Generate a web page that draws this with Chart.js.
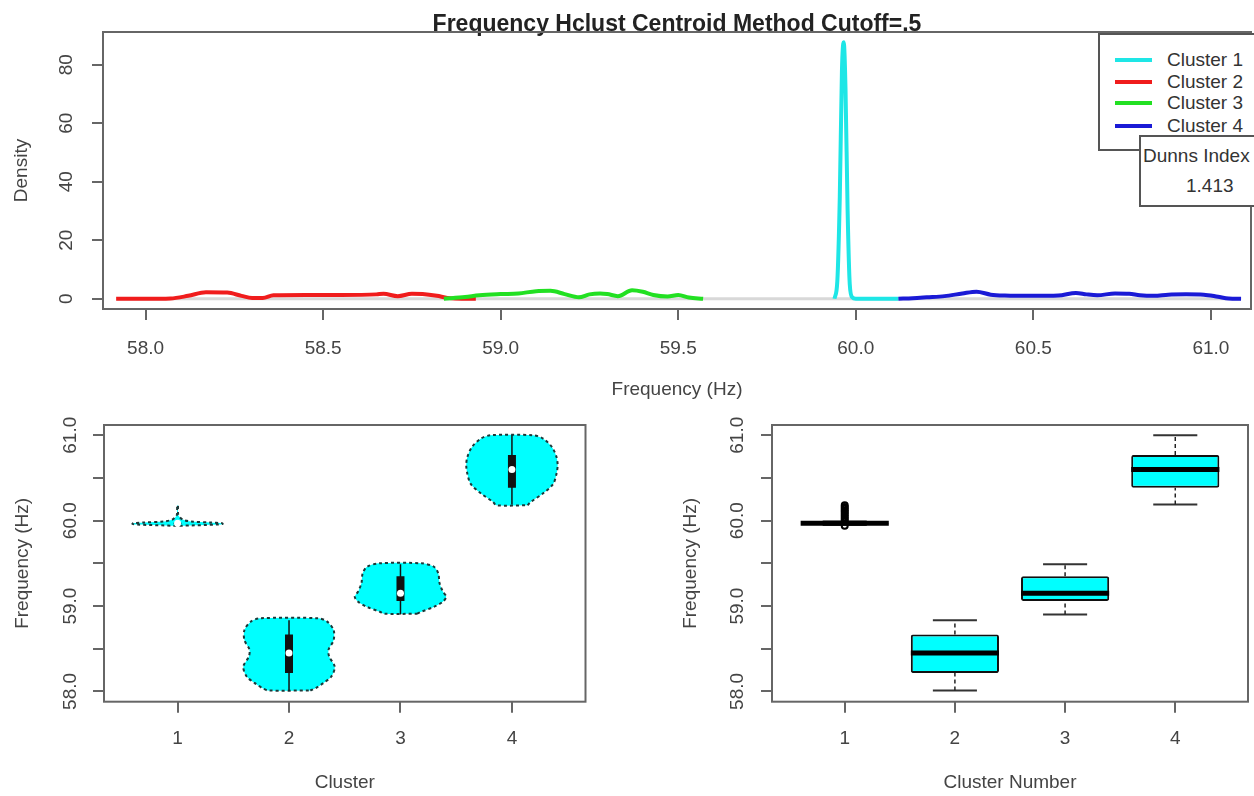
<!DOCTYPE html>
<html>
<head>
<meta charset="utf-8">
<title>Frequency Hclust Centroid Method Cutoff=.5</title>
<script src="https://cdn.jsdelivr.net/npm/chart.js@4.4.0/dist/chart.umd.min.js"></script>
<style>
  html, body { margin: 0; padding: 0; background: #fff; }
  body { width: 1254px; height: 796px; position: relative; overflow: hidden;
         font-family: 'Liberation Sans', Arial, sans-serif; color: #333; }
  .panel { position: absolute; }
  #legend { position: absolute; left: 1098px; top: 33px; width: 170px; height: 114px;
            border: 2px solid #555; background: #fff; }
  #legend .row { position: absolute; left: 0; height: 22px; width: 170px; }
  #legend .swatch { position: absolute; left: 15px; top: 9px; width: 37px; height: 4px; }
  #legend .label { position: absolute; left: 67px; top: 0; font-size: 19px; line-height: 22px; }
  #dunns { position: absolute; left: 1139px; top: 135px; width: 130px; height: 68px;
           border: 2px solid #555; background: #fff; font-size: 19px; }
  #dunns .t { position: absolute; left: 2px; top: 8px; line-height: 22px; }
  #dunns .v { position: absolute; left: 45px; top: 38px; line-height: 22px; }
</style>
</head>
<body>
<div class="panel" style="left:0;top:0;"><canvas id="density" width="1254" height="410"></canvas></div>
<div class="panel" style="left:0;top:400px;"><canvas id="violin" width="627" height="396"></canvas></div>
<div class="panel" style="left:627px;top:400px;"><canvas id="boxplot" width="627" height="396"></canvas></div>
<div id="legend"></div>
<div id="dunns"><div class="t">Dunns Index</div><div class="v">1.413</div></div>
<script>
// ---- data ----
const clusterNames = ['Cluster 1', 'Cluster 2', 'Cluster 3', 'Cluster 4'];
const clusterColors = ['#1ee6e6', '#f01c1c', '#22e022', '#1a1ad6'];

// density curves (Frequency Hz -> density)
const dens1X = [59.940, 59.948, 59.955, 59.961, 59.966, 59.971, 59.977, 59.983, 59.990, 60.000, 60.050, 60.120];
const dens1Y = [0, 6, 35, 78, 87.7, 72, 30, 5, 0.5, 0, 0, 0];
const dens2X = [57.917, 58.00, 58.07, 58.12, 58.17, 58.23, 58.27, 58.30, 58.33, 58.36, 58.45, 58.55, 58.65, 58.67, 58.71, 58.75, 58.78, 58.82, 58.85, 58.89, 58.93];
const dens2Y = [0, 0, 0.1, 1.0, 2.2, 2.1, 1.0, 0.3, 0.3, 1.2, 1.3, 1.3, 1.5, 1.7, 0.9, 1.7, 1.6, 1.0, 0.3, 0, 0];
const dens3X = [58.84, 58.90, 58.94, 59.00, 59.05, 59.10, 59.14, 59.18, 59.22, 59.25, 59.28, 59.30, 59.33, 59.37, 59.40, 59.43, 59.47, 59.50, 59.53, 59.57];
const dens3Y = [0, 0.6, 1.2, 1.6, 1.8, 2.6, 2.7, 1.6, 0.5, 1.5, 1.8, 1.6, 0.9, 2.9, 2.4, 1.3, 0.8, 1.3, 0.4, 0];
const dens4X = [60.12, 60.16, 60.20, 60.25, 60.30, 60.34, 60.38, 60.42, 60.50, 60.57, 60.62, 60.65, 60.68, 60.73, 60.77, 60.80, 60.84, 60.88, 60.93, 60.98, 61.02, 61.05, 61.085];
const dens4Y = [0, 0.2, 0.5, 0.9, 1.8, 2.4, 1.4, 1.1, 1.0, 1.1, 2.0, 1.5, 1.2, 1.8, 1.7, 1.2, 1.0, 1.4, 1.5, 1.4, 0.7, 0.1, 0];
const baseX = [57.92, 61.085];
const baseY = [0, 0];

// per-cluster summary (Frequency Hz)
const clusters = [1, 2, 3, 4];
const boxLo = [59.965, 58.215, 59.06, 60.385];
const boxHi = [59.975, 58.667, 59.35, 60.77];
const medians = [59.97, 58.45, 59.15, 60.6];
const whiskLo = [59.95, 58.01, 58.90, 60.19];
const whiskHi = [59.99, 58.835, 59.49, 61.0];
const outliers1 = [59.94, 60.0, 60.02, 60.04, 60.06, 60.08, 60.10, 60.12, 60.14, 60.16, 60.18];

// violin outlines: frequency levels and half widths (in cluster units)
const vioLevels1 = [59.94, 59.955, 59.962, 59.97, 59.978, 59.99, 60.01, 60.04, 60.07, 60.12, 60.18];
const vioHalf1 = [0.02, 0.37, 0.405, 0.40, 0.30, 0.12, 0.05, 0.02, 0.006, 0.004, 0.003];
const vioLevels2 = [58.012, 58.04, 58.10, 58.175, 58.29, 58.41, 58.49, 58.60, 58.72, 58.82, 58.857];
const vioHalf2 = [0.19, 0.24, 0.31, 0.38, 0.41, 0.36, 0.355, 0.40, 0.40, 0.34, 0.26];
const vioLevels3 = [58.91, 58.93, 58.99, 59.05, 59.11, 59.17, 59.27, 59.38, 59.46, 59.50];
const vioHalf3 = [0.15, 0.18, 0.30, 0.38, 0.41, 0.38, 0.35, 0.34, 0.30, 0.19];
const vioLevels4 = [60.18, 60.22, 60.32, 60.43, 60.55, 60.65, 60.745, 60.86, 60.96, 61.0];
const vioHalf4 = [0.14, 0.17, 0.28, 0.37, 0.40, 0.41, 0.40, 0.36, 0.28, 0.19];

const CYAN = '#00ffff';
const AXIS = '#666666';

Chart.defaults.font.family = "'Liberation Sans', Arial, sans-serif";
Chart.defaults.font.size = 19;
Chart.defaults.color = '#444';
Chart.defaults.animation = false;

// R-style box around the plot region
const frame = {
  id: 'frame',
  afterDraw(chart) {
    const { ctx, chartArea: a } = chart;
    ctx.save();
    ctx.strokeStyle = AXIS;
    ctx.lineWidth = 2;
    ctx.strokeRect(a.left, a.top, a.right - a.left, a.bottom - a.top);
    ctx.restore();
  }
};

const pts = (xs, ys) => xs.map((x, i) => ({ x, y: ys[i] }));

function fix(prop, size) {
  return (scale) => {
    scale[prop] = size;
    scale.paddingLeft = scale.paddingRight = scale.paddingTop = scale.paddingBottom = 0;
  };
}

function xAxis(min, max, step, fmt, title, height, labelPad, titlePad) {
  return {
    type: 'linear', min, max, offset: false,
    border: { display: false },
    grid: { drawOnChartArea: false, drawTicks: true, tickLength: 11, color: AXIS, lineWidth: 2, offset: false },
    ticks: { stepSize: step, includeBounds: false, autoSkip: false, maxRotation: 0, padding: labelPad, callback: fmt },
    title: { display: true, text: title, padding: { top: 0, bottom: titlePad } },
    afterFit: fix('height', height)
  };
}

function yAxis(min, max, step, fmt, title, width, labelPad, titlePad) {
  return {
    type: 'linear', min, max, beginAtZero: false,
    border: { display: false },
    grid: { drawOnChartArea: false, drawTicks: true, tickLength: 11, color: AXIS, lineWidth: 2 },
    ticks: { stepSize: step, includeBounds: false, autoSkip: false, minRotation: 90, maxRotation: 90,
             crossAlign: 'center', padding: labelPad, callback: fmt },
    title: { display: true, text: title, padding: { top: titlePad, bottom: 0 } },
    afterFit: fix('width', width)
  };
}

const noPlugins = { legend: { display: false }, tooltip: { enabled: false } };

// ---- top: density curves ----
const densSeries = [[dens1X, dens1Y], [dens2X, dens2Y], [dens3X, dens3Y], [dens4X, dens4Y]];
const densDatasets = densSeries.map(([xs, ys], i) => ({
  label: clusterNames[i],
  data: pts(xs, ys),
  showLine: true,
  borderColor: clusterColors[i],
  borderWidth: 4,
  pointRadius: 0,
  cubicInterpolationMode: 'monotone',
  order: 4 - i
}));
densDatasets.push({
  label: 'all', data: pts(baseX, baseY), showLine: true,
  borderColor: '#d8d8d8', borderWidth: 3, pointRadius: 0, order: 10
});

new Chart(document.getElementById('density'), {
  type: 'scatter',
  data: { datasets: densDatasets },
  options: {
    responsive: false,
    layout: { padding: { left: 0, right: 3, top: 0, bottom: 0 } },
    plugins: {
      ...noPlugins,
      title: {
        display: true,
        fullSize: false,
        text: 'Frequency Hclust Centroid Method Cutoff=.5',
        color: '#222',
        font: { size: 23, weight: 'bold', lineHeight: 14 / 23 },
        padding: { top: 18, bottom: 0 }
      }
    },
    scales: {
      x: xAxis(57.88, 61.113, 0.5, (v) => v.toFixed(1), 'Frequency (Hz)', 101, 17, 8.6),
      y: yAxis(-3.5, 91.2, 20, (v) => String(v), 'Density', 103, 14.5, 10.6)
    }
  },
  plugins: [frame]
});

// ---- bottom left: violin plot ----
function violinShape(cat, levels, half) {
  const right = levels.map((y, i) => ({ x: cat + half[i], y }));
  const left = levels.map((y, i) => ({ x: cat - half[i], y })).reverse();
  return right.concat(left, [right[0]]);
}

function segments(list) {
  const out = [];
  list.forEach(([a, b]) => { out.push(a, b, { x: a.x, y: null }); });
  return out;
}

const vioShapes = [
  [vioLevels1, vioHalf1], [vioLevels2, vioHalf2], [vioLevels3, vioHalf3], [vioLevels4, vioHalf4]
];
const vioDatasets = vioShapes.map(([lv, hw], i) => ({
  label: 'violin ' + clusters[i],
  data: violinShape(clusters[i], lv, hw),
  showLine: true,
  fill: 'shape',
  backgroundColor: CYAN,
  borderColor: '#1c3838',
  borderWidth: 2,
  borderDash: [3, 3],
  pointRadius: 0,
  tension: 0.3,
  order: 5
}));
vioDatasets.push({
  label: 'range',
  data: segments(clusters.map((c, i) => [{ x: c, y: whiskLo[i] }, { x: c, y: whiskHi[i] }])),
  showLine: true, spanGaps: false, borderColor: '#111', borderWidth: 1.5, pointRadius: 0, order: 3
});
vioDatasets.push({
  label: 'iqr',
  data: segments(clusters.map((c, i) => [{ x: c, y: boxLo[i] }, { x: c, y: boxHi[i] }])),
  showLine: true, spanGaps: false, borderColor: '#111', borderWidth: 8, borderCapStyle: 'butt',
  pointRadius: 0, order: 2
});
vioDatasets.push({
  label: 'median',
  data: pts(clusters, medians),
  showLine: false, pointRadius: 3.5, pointBackgroundColor: '#fff', pointBorderWidth: 0, order: 1
});

const clusterTick = (v) => (Number.isInteger(v) ? String(v) : '');
const freqTick = (v) => (Number.isInteger(v) ? v.toFixed(1) : '');

new Chart(document.getElementById('violin'), {
  type: 'scatter',
  data: { datasets: vioDatasets },
  options: {
    responsive: false,
    layout: { padding: { left: 0, right: 41.5, top: 25, bottom: 0 } },
    plugins: noPlugins,
    scales: {
      x: xAxis(0.34, 4.66, 1, clusterTick, 'Cluster', 94.3, 14.8, 1.6),
      y: yAxis(57.88, 61.12, 0.5, freqTick, 'Frequency (Hz)', 104, 3.6, 11.6)
    }
  },
  plugins: [frame]
});

// ---- bottom right: box plot ----
const boxDatasets = [
  {
    type: 'bar',
    label: 'box',
    data: clusters.map((c, i) => ({ x: c, y: [boxLo[i], boxHi[i]] })),
    backgroundColor: CYAN,
    borderColor: '#111',
    borderWidth: 2,
    borderSkipped: false,
    borderRadius: 2,
    categoryPercentage: 0.8,
    barPercentage: 1,
    order: 4
  },
  {
    label: 'whiskers',
    data: segments(clusters.flatMap((c, i) => [
      [{ x: c, y: boxHi[i] }, { x: c, y: whiskHi[i] }],
      [{ x: c, y: whiskLo[i] }, { x: c, y: boxLo[i] }]
    ])),
    showLine: true, spanGaps: false, borderColor: '#222', borderWidth: 1.5, borderDash: [4, 3],
    pointRadius: 0, order: 3
  },
  {
    label: 'staples',
    data: segments(clusters.flatMap((c, i) => [
      [{ x: c - 0.2, y: whiskHi[i] }, { x: c + 0.2, y: whiskHi[i] }],
      [{ x: c - 0.2, y: whiskLo[i] }, { x: c + 0.2, y: whiskLo[i] }]
    ])),
    showLine: true, spanGaps: false, borderColor: '#333', borderWidth: 2, pointRadius: 0, order: 3
  },
  {
    label: 'median',
    data: segments(clusters.map((c, i) => [{ x: c - 0.4, y: medians[i] }, { x: c + 0.4, y: medians[i] }])),
    showLine: true, spanGaps: false, borderColor: '#000', borderWidth: 5, borderCapStyle: 'butt',
    pointRadius: 0, order: 1
  },
  {
    label: 'outliers',
    data: outliers1.map((y) => ({ x: clusters[0], y })),
    showLine: false, pointRadius: 3, pointBorderColor: '#000', pointBorderWidth: 2,
    pointBackgroundColor: 'rgba(0,0,0,0)', order: 0
  }
];

new Chart(document.getElementById('boxplot'), {
  type: 'scatter',
  data: { datasets: boxDatasets },
  options: {
    responsive: false,
    layout: { padding: { left: 0, right: 3, top: 25, bottom: 0 } },
    plugins: noPlugins,
    scales: {
      x: xAxis(0.34, 4.66, 1, clusterTick, 'Cluster Number', 94.3, 14.8, 1.6),
      y: yAxis(57.88, 61.12, 0.5, freqTick, 'Frequency (Hz)', 145, 4.6, 52.6)
    }
  },
  plugins: [frame]
});

// ---- legend (R style, top right of the density panel) ----
const legend = document.getElementById('legend');
clusterNames.forEach((name, i) => {
  const row = document.createElement('div');
  row.className = 'row';
  row.style.top = [14, 36, 57, 80][i] + 'px';
  row.innerHTML = '<div class="swatch" style="background:' + clusterColors[i] + '"></div>' +
                  '<div class="label">' + name + '</div>';
  legend.appendChild(row);
});
</script>
</body>
</html>
